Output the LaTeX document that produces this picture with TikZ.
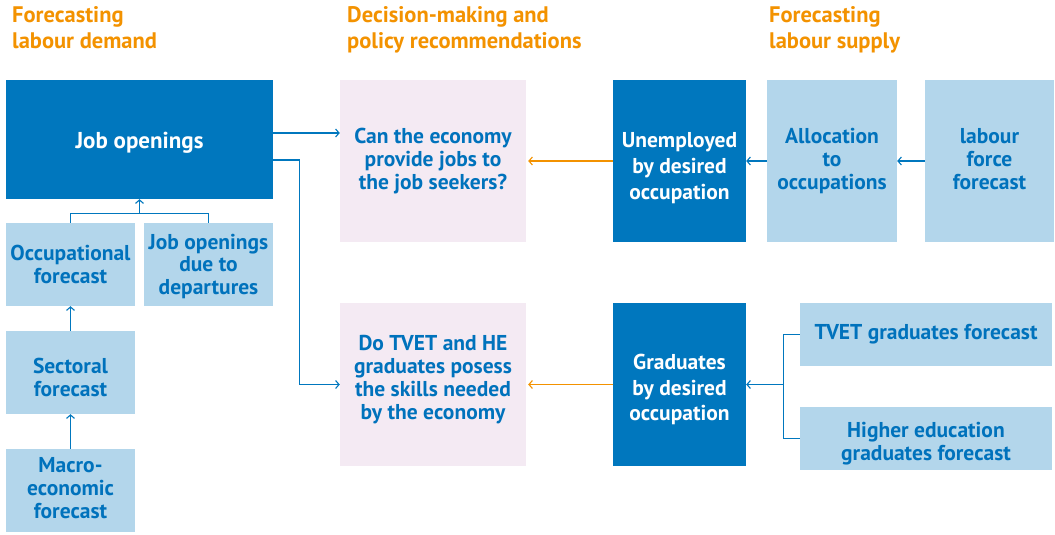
\documentclass[tikz,border=0pt]{standalone}
\usepackage{fontspec}
\setmainfont{PT Sans}
\usetikzlibrary{arrows.meta,calc}
\definecolor{dblue}{HTML}{0077BE}
\definecolor{lblue}{HTML}{B3D6EB}
\definecolor{tblue}{HTML}{0072BC}
\definecolor{pinkbg}{HTML}{F4EAF3}
\definecolor{orng}{HTML}{F39200}
\begin{document}
\begin{tikzpicture}[x=1pt,y=-1pt,
  box/.style={inner sep=0pt},
  db/.style={box,fill=dblue},
  lb/.style={box,fill=lblue},
  pb/.style={box,fill=pinkbg},
  txt/.style={inner sep=0pt,align=center,text=tblue,font=\fontsize{21.5}{22.8}\selectfont\bfseries},
  wtxt/.style={inner sep=0pt,align=center,text=white,font=\fontsize{21.5}{25.8}\selectfont\bfseries},
  ttl/.style={anchor=north west,align=left,inner sep=0pt,text=orng,font=\fontsize{22.5}{26}\selectfont\bfseries},
  conn/.style={draw=dblue,line width=1.1pt},
  arr/.style={conn,-{Straight Barb[length=3.5pt,width=8pt,line width=1.1pt]}},
  oarr/.style={draw=orng,line width=1.1pt,-{Straight Barb[length=3.5pt,width=8pt,line width=1.1pt]}}]
\useasboundingbox (0,0) rectangle (1055,535);
% titles
\node[ttl] (t1) at (12,6) {Forecasting\\labour demand};
\node[ttl] (t2) at (347,6) {Decision-making and\\policy recommendations};
\node[ttl] (t3) at (769,6) {Forecasting\\labour supply};
% left column boxes
\node[db,minimum width=267pt,minimum height=119pt] (jo) at (139.5,139.5) {};
\node[lb,minimum width=129pt,minimum height=83pt] (occ) at (70.5,264.5) {};
\node[lb,minimum width=129pt,minimum height=83pt] (dep) at (208.5,264.5) {};
\node[lb,minimum width=129pt,minimum height=83pt] (sec) at (70.5,372.5) {};
\node[lb,minimum width=129pt,minimum height=83pt] (mac) at (70.5,490.5) {};
% middle boxes
\node[pb,minimum width=186pt,minimum height=162pt] (can) at (433,161) {};
\node[pb,minimum width=186pt,minimum height=163pt] (tvet) at (433,384.5) {};
% right boxes
\node[db,minimum width=133pt,minimum height=162pt] (unemp) at (679.5,161) {};
\node[lb,minimum width=130pt,minimum height=162pt] (alloc) at (832,161) {};
\node[lb,minimum width=129pt,minimum height=162pt] (lff) at (989.5,161) {};
\node[db,minimum width=133pt,minimum height=163pt] (grad) at (679.5,384.5) {};
\node[lb,minimum width=252pt,minimum height=63pt] (tvf) at (926,334.5) {};
\node[lb,minimum width=252pt,minimum height=63pt] (hef) at (926,438.5) {};
% texts
\node[wtxt,font=\fontsize{23}{26}\selectfont\bfseries] (jot) at ([yshift=-3pt]jo.center) {Job openings};
\node[txt] (occt) at (occ.center) {Occupational\\forecast};
\node[txt] (dept) at ([yshift=-2pt]dep.center) {Job openings\\due to\\departures};
\node[txt] (sect) at ([yshift=-5pt]sec.center) {Sectoral\\forecast};
\node[txt] (mact) at ([yshift=2.5pt]mac.center) {Macro-\\economic\\forecast};
\node[txt] (cant) at (can.center) {Can the economy\\provide jobs to\\the job seekers?};
\node[txt] (tvett) at ([yshift=5pt]tvet.center) {Do TVET and HE\\graduates posess\\the skills needed\\by the economy};
\node[wtxt] (unempt) at ([yshift=-7pt]unemp.center) {Unemployed\\by desired\\occupation};
\node[txt] (alloct) at (alloc.center) {Allocation\\to\\occupations};
\node[txt] (lfft) at ([yshift=2pt]lff.center) {labour\\force\\forecast};
\node[wtxt] (gradt) at ([yshift=-5pt]grad.center) {Graduates\\by desired\\occupation};
\node[txt] (tvft) at (tvf.center) {TVET graduates forecast};
\node[txt] (heft) at ([yshift=-5pt]hef.center) {Higher education\\graduates forecast};
% connectors left
\draw[conn] (occ.north) -- ++(0,-9) coordinate (b1) -| (dep.north);
\draw[arr] (jo.south |- b1) -- (jo.south);
\draw[arr] (sec.north) -- (occ.south);
\draw[arr] (mac.north) -- (sec.south);
\draw[arr] ([yshift=6.5pt]jo.east) -- ([yshift=6.5pt]jo.east -| can.west);
\draw[arr] ([yshift=-20.5pt]jo.east) -- ++(26,0) |- (tvet.west);
% connectors right
\draw[arr] (lff.west) -- (alloc.east);
\draw[arr] (alloc.west) -- (unemp.east);
\draw[oarr] (unemp.west) -- ([xshift=2pt]can.east);
\draw[oarr] (grad.west) -- ([xshift=2pt]tvet.east);
\coordinate (br) at ($(tvf.west)+(-16,0)$);
\draw[conn] (tvf.west) -- (br) |- (hef.west);
\draw[arr] (br |- grad.east) -- (grad.east);
\end{tikzpicture}
\end{document}
